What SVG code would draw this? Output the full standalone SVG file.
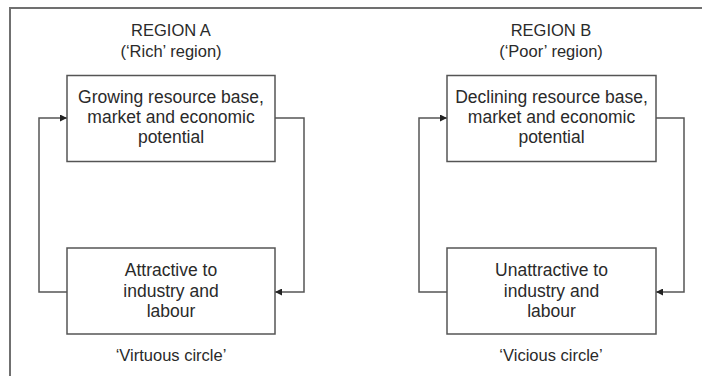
<svg xmlns="http://www.w3.org/2000/svg" width="702" height="376" viewBox="0 0 702 376">
<defs>
<style>
.frame{fill:none;stroke:#707070;stroke-width:2}
.box{fill:#fff;stroke:#555;stroke-width:1.5}
.conn{fill:none;stroke:#555;stroke-width:1.5}
text{font-family:"Liberation Sans",Arial,sans-serif;fill:#2a2a2a;text-anchor:middle}
.t{font-size:16.5px}
.b{font-size:17.5px}
</style>
<marker id="arr" viewBox="0 0 10 10" refX="10" refY="5" markerWidth="9" markerHeight="7" markerUnits="userSpaceOnUse" orient="auto">
<path d="M0,0 L10,5 L0,10 z" fill="#222"/>
</marker>
</defs>
<rect width="702" height="376" fill="#fff"/>
<path class="frame" d="M10,378 L10,8 L704,8"/>

<g id="titleA">
<text class="t" x="171" y="36">REGION A</text>
<text class="t" x="171" y="57">(‘Rich’ region)</text>
</g>
<g id="titleB">
<text class="t" x="551" y="36">REGION B</text>
<text class="t" x="551" y="57">(‘Poor’ region)</text>
</g>

<g id="connectors">
<path class="conn" d="M67,292 L39,292 L39,118 L67,118" marker-end="url(#arr)"/>
<path class="conn" d="M275,118 L304,118 L304,292 L275,292" marker-end="url(#arr)"/>
<path class="conn" d="M447,292 L419,292 L419,118 L447,118" marker-end="url(#arr)"/>
<path class="conn" d="M656,118 L684,118 L684,292 L656,292" marker-end="url(#arr)"/>
</g>

<g id="nodeA1">
<rect class="box" x="67" y="75.5" width="208" height="86"/>
<text class="b" x="171" y="103">Growing resource base,</text>
<text class="b" x="171" y="123">market and economic</text>
<text class="b" x="171" y="143">potential</text>
</g>
<g id="nodeA2">
<rect class="box" x="67" y="248" width="208" height="86"/>
<text class="b" x="171" y="276">Attractive to</text>
<text class="b" x="171" y="296.5">industry and</text>
<text class="b" x="171" y="317">labour</text>
</g>
<g id="captionA">
<text class="t" x="171" y="361">‘Virtuous circle’</text>
</g>

<g id="nodeB1">
<rect class="box" x="447" y="75.5" width="209" height="86"/>
<text class="b" x="551.5" y="103">Declining resource base,</text>
<text class="b" x="551.5" y="123">market and economic</text>
<text class="b" x="551.5" y="143">potential</text>
</g>
<g id="nodeB2">
<rect class="box" x="447" y="248" width="209" height="86"/>
<text class="b" x="551.5" y="276">Unattractive to</text>
<text class="b" x="551.5" y="296.5">industry and</text>
<text class="b" x="551.5" y="317">labour</text>
</g>
<g id="captionB">
<text class="t" x="551" y="361">‘Vicious circle’</text>
</g>
</svg>
